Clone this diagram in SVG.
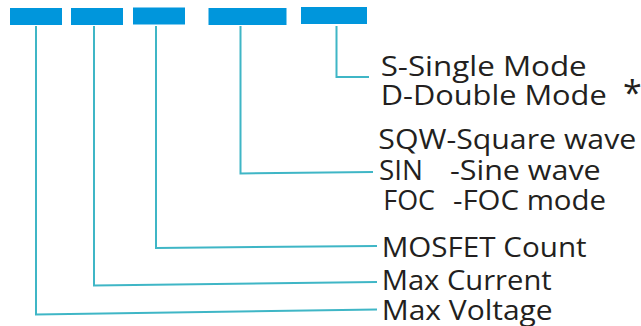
<svg xmlns="http://www.w3.org/2000/svg" width="641" height="326" viewBox="0 0 641 326">
<style>
.box{fill:#0096dc;}
.ln{fill:none;stroke:#3fb6c6;stroke-width:2;stroke-linejoin:miter;}
.t{font-family:"Open Sans","Noto Sans",sans-serif;font-size:26.5px;fill:#231f20;}
</style>
<rect width="641" height="326" fill="#ffffff"/>
<g id="seg1"><rect class="box" x="10" y="8" width="52" height="17"/></g>
<g id="seg2"><rect class="box" x="71" y="8" width="52" height="17"/></g>
<g id="seg3"><rect class="box" x="133" y="7.5" width="52" height="17"/></g>
<g id="seg4"><rect class="box" x="208.5" y="8" width="78" height="17"/></g>
<g id="seg5"><rect class="box" x="301" y="7" width="66" height="17"/></g>
<g id="connectors">
<path class="ln" d="M36,26 V314.5 L377,309.5"/>
<path class="ln" d="M94,26 V285.5 L377,282"/>
<path class="ln" d="M156,26 V248 L377,246"/>
<path class="ln" d="M240.5,26 V173.5 L373,172"/>
<path class="ln" d="M336.5,26 V77 H369"/>
</g>
<g id="label-mode">
<text class="t" x="380.7" y="76" textLength="206" lengthAdjust="spacingAndGlyphs">S-Single Mode</text>
<text class="t" x="380.7" y="105" textLength="226" lengthAdjust="spacingAndGlyphs">D-Double Mode</text>
<text class="t" x="623" y="105" style="font-size:34px">*</text>
</g>
<g id="label-wave">
<text class="t" x="378.3" y="149.3" textLength="258" lengthAdjust="spacingAndGlyphs">SQW-Square wave</text>
<text class="t" y="180.3"><tspan x="379" textLength="44" lengthAdjust="spacingAndGlyphs">SIN</tspan> <tspan x="450" textLength="150.7" lengthAdjust="spacingAndGlyphs">-Sine wave</tspan></text>
<text class="t" y="210"><tspan x="383.3" textLength="51.7" lengthAdjust="spacingAndGlyphs">FOC</tspan> <tspan x="453" textLength="153" lengthAdjust="spacingAndGlyphs">-FOC mode</tspan></text>
</g>
<g id="label-mosfet"><text class="t" x="381.7" y="257.3" textLength="205" lengthAdjust="spacingAndGlyphs">MOSFET Count</text></g>
<g id="label-current"><text class="t" x="381.7" y="290" textLength="170" lengthAdjust="spacingAndGlyphs">Max Current</text></g>
<g id="label-voltage"><text class="t" x="381.7" y="320" textLength="171" lengthAdjust="spacingAndGlyphs">Max Voltage</text></g>
</svg>
